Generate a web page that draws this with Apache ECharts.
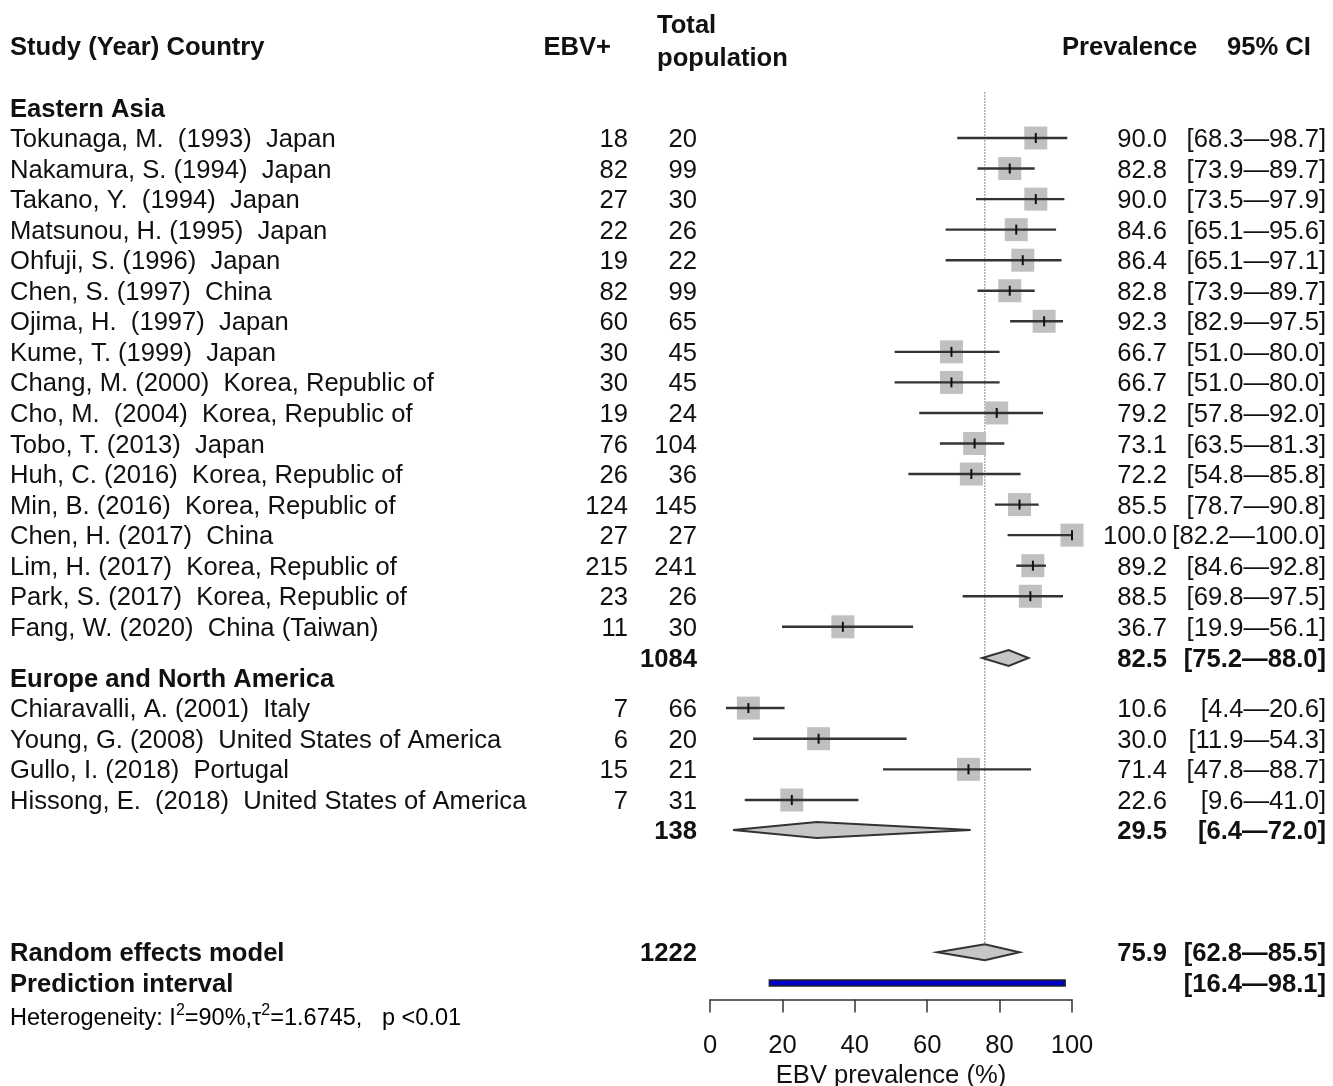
<!DOCTYPE html>
<html>
<head>
<meta charset="utf-8">
<title>EBV prevalence forest plot</title>
<script src="https://cdn.jsdelivr.net/npm/echarts@6/dist/echarts.min.js"></script>
<style>
html, body { margin: 0; padding: 0; background: #fff; }
#chart { width: 1333px; height: 1086px; }
</style>
</head>
<body>
<div id="chart"></div>
<script>
// Eastern Asia
const asiaStudies = [
  'Tokunaga, M.  (1993)  Japan', 'Nakamura, S. (1994)  Japan', 'Takano, Y.  (1994)  Japan',
  'Matsunou, H. (1995)  Japan', 'Ohfuji, S. (1996)  Japan', 'Chen, S. (1997)  China',
  'Ojima, H.  (1997)  Japan', 'Kume, T. (1999)  Japan', 'Chang, M. (2000)  Korea, Republic of',
  'Cho, M.  (2004)  Korea, Republic of', 'Tobo, T. (2013)  Japan', 'Huh, C. (2016)  Korea, Republic of',
  'Min, B. (2016)  Korea, Republic of', 'Chen, H. (2017)  China', 'Lim, H. (2017)  Korea, Republic of',
  'Park, S. (2017)  Korea, Republic of', 'Fang, W. (2020)  China (Taiwan)'
]
const asiaEvents = [18, 82, 27, 22, 19, 82, 60, 30, 30, 19, 76, 26, 124, 27, 215, 23, 11]
const asiaTotals = [20, 99, 30, 26, 22, 99, 65, 45, 45, 24, 104, 36, 145, 27, 241, 26, 30]
const asiaPrev = [90.0, 82.8, 90.0, 84.6, 86.4, 82.8, 92.3, 66.7, 66.7, 79.2, 73.1, 72.2, 85.5, 100.0, 89.2, 88.5, 36.7]
const asiaLower = [68.3, 73.9, 73.5, 65.1, 65.1, 73.9, 82.9, 51.0, 51.0, 57.8, 63.5, 54.8, 78.7, 82.2, 84.6, 69.8, 19.9]
const asiaUpper = [98.7, 89.7, 97.9, 95.6, 97.1, 89.7, 97.5, 80.0, 80.0, 92.0, 81.3, 85.8, 90.8, 100.0, 92.8, 97.5, 56.1]

// Europe and North America
const euroStudies = [
  'Chiaravalli, A. (2001)  Italy', 'Young, G. (2008)  United States of America',
  'Gullo, I. (2018)  Portugal', 'Hissong, E.  (2018)  United States of America'
]
const euroEvents = [7, 6, 15, 7]
const euroTotals = [66, 20, 21, 31]
const euroPrev = [10.6, 30.0, 71.4, 22.6]
const euroLower = [4.4, 11.9, 47.8, 9.6]
const euroUpper = [20.6, 54.3, 88.7, 41.0]

// subgroup pooled estimates
const groupNames = ['Eastern Asia', 'Europe and North America']
const groupTotals = [1084, 138]
const groupPrev = [82.5, 29.5]
const groupLower = [75.2, 6.4]
const groupUpper = [88.0, 72.0]

// overall
const modelTotal = 1222
const modelEstimate = [75.9, 62.8, 85.5]
const predInterval = [16.4, 98.1]
const heterogeneity = ['90%', '1.6745', '<0.01']

// row positions (in row units)
const rowLayout = {
  header: -3, asiaHead: -1, asiaFirst: 0, asiaSub: 17.02,
  euroHead: 17.68, euroFirst: 18.66, euroSub: 22.65,
  model: 26.65, pred: 27.66, het: 28.7
}

const FONT = '"Liberation Sans", Arial, Helvetica, sans-serif'
const FS = 25.6
const TXT_DY = 2
const col = { name: 10, ev: 628, tot: 697, prev: 1167, ci: 1326 }

const rows = []
rows.push({ kind: 'group', y: rowLayout.asiaHead, name: groupNames[0] })
asiaStudies.forEach((s, i) => rows.push({
  kind: 'study', y: rowLayout.asiaFirst + i, name: s, ev: asiaEvents[i], tot: asiaTotals[i],
  prev: asiaPrev[i], lo: asiaLower[i], hi: asiaUpper[i]
}))
rows.push({ kind: 'sub', y: rowLayout.asiaSub, tot: groupTotals[0], prev: groupPrev[0], lo: groupLower[0], hi: groupUpper[0] })
rows.push({ kind: 'group', y: rowLayout.euroHead, name: groupNames[1] })
euroStudies.forEach((s, i) => rows.push({
  kind: 'study', y: rowLayout.euroFirst + i * 1.003, name: s, ev: euroEvents[i], tot: euroTotals[i],
  prev: euroPrev[i], lo: euroLower[i], hi: euroUpper[i]
}))
rows.push({ kind: 'sub', y: rowLayout.euroSub, tot: groupTotals[1], prev: groupPrev[1], lo: groupLower[1], hi: groupUpper[1] })
rows.push({
  kind: 'sub', y: rowLayout.model, name: 'Random effects model', tot: modelTotal,
  prev: modelEstimate[0], lo: modelEstimate[1], hi: modelEstimate[2]
})
rows.push({ kind: 'pred', y: rowLayout.pred, name: 'Prediction interval', lo: predInterval[0], hi: predInterval[1] })

const fmtCI = (lo, hi) => '[' + lo.toFixed(1) + '\u2014' + hi.toFixed(1) + ']'

function txt(x, y, text, align, bold, size) {
  return {
    type: 'text', x: x, y: y + TXT_DY,
    style: {
      text: text, align: align, verticalAlign: 'middle', fill: '#111',
      font: (bold ? 'bold ' : '') + (size || FS) + 'px ' + FONT
    }
  }
}

function renderRow(params, api) {
  const r = rows[api.value(2)]
  const y = api.coord([0, r.y])[1]
  const px = v => api.coord([v, r.y])[0]
  const out = []
  if (r.kind === 'group') {
    out.push(txt(col.name, y, r.name, 'left', true))
  }
  if (r.kind === 'study') {
    const s = 23
    out.push({ type: 'rect', shape: { x: px(r.prev) - s / 2, y: y - s / 2, width: s, height: s }, style: { fill: '#c0c0c0' } })
    out.push({ type: 'line', shape: { x1: px(r.lo), y1: y, x2: px(r.hi), y2: y }, style: { stroke: '#333', lineWidth: 2.4 } })
    out.push({ type: 'line', shape: { x1: px(r.prev), y1: y - 5, x2: px(r.prev), y2: y + 5 }, style: { stroke: '#111', lineWidth: 2 } })
    out.push(txt(col.name, y, r.name, 'left', false))
    out.push(txt(col.ev, y, String(r.ev), 'right', false))
    out.push(txt(col.tot, y, String(r.tot), 'right', false))
    out.push(txt(col.prev, y, r.prev.toFixed(1), 'right', false))
    out.push(txt(col.ci, y, fmtCI(r.lo, r.hi), 'right', false))
  }
  if (r.kind === 'sub') {
    const h = 8
    out.push({
      type: 'polygon',
      shape: { points: [[px(r.lo), y], [px(r.prev), y - h], [px(r.hi), y], [px(r.prev), y + h]] },
      style: { fill: '#c6c6c6', stroke: '#333', lineWidth: 2 }
    })
    if (r.name) out.push(txt(col.name, y, r.name, 'left', true))
    out.push(txt(col.tot, y, String(r.tot), 'right', true))
    out.push(txt(col.prev, y, r.prev.toFixed(1), 'right', true))
    out.push(txt(col.ci, y, fmtCI(r.lo, r.hi), 'right', true))
  }
  if (r.kind === 'pred') {
    out.push({
      type: 'rect', shape: { x: px(r.lo), y: y - 3, width: px(r.hi) - px(r.lo), height: 6 },
      style: { fill: '#0000cd', stroke: '#222', lineWidth: 1.5 }
    })
    out.push(txt(col.name, y, r.name, 'left', true))
    out.push(txt(col.ci, y, fmtCI(r.lo, r.hi), 'right', true))
  }
  return { type: 'group', children: out }
}

function renderHeader(params, api) {
  const y = api.coord([0, rowLayout.header])[1]
  const hy = api.coord([0, rowLayout.het])[1]
  return {
    type: 'group',
    children: [
      txt(10, y, 'Study (Year) Country', 'left', true),
      txt(611, y, 'EBV+', 'right', true),
      {
        type: 'text', x: 657, y: y - 6 + TXT_DY,
        style: { text: 'Total\npopulation', align: 'left', verticalAlign: 'middle', fill: '#111', font: 'bold ' + FS + 'px ' + FONT, lineHeight: 33 }
      },
      txt(1062, y, 'Prevalence', 'left', true),
      txt(1227, y, '95% CI', 'left', true),
      {
        type: 'text', x: 10, y: hy + TXT_DY,
        style: {
          text: '{a|Heterogeneity: I}{s|2}{a|=' + heterogeneity[0] + ',\u03c4}{s|2}{a|=' + heterogeneity[1] + ',   p ' + heterogeneity[2] + '}',
          align: 'left', verticalAlign: 'middle',
          rich: {
            a: { fontSize: 23.5, fontFamily: FONT, color: '#111', lineHeight: 28, verticalAlign: 'bottom' },
            s: { fontSize: 16, fontFamily: FONT, color: '#111', lineHeight: 28, verticalAlign: 'top' }
          }
        }
      }
    ]
  }
}

const chart = echarts.init(document.getElementById('chart'))
const rowUnit = 30.55
const yMin = -4, yMax = 28.2
const gridTop = 138 + yMin * rowUnit

chart.setOption({
  animation: false,
  backgroundColor: '#fff',
  grid: {
    left: 710, width: 362, top: gridTop, height: (yMax - yMin) * rowUnit,
    containLabel: false, outerBoundsMode: 'none'
  },
  xAxis: {
    type: 'value', min: 0, max: 100, interval: 20, position: 'bottom',
    axisLine: { show: true, onZero: false, lineStyle: { color: '#333', width: 1.5 } },
    axisTick: { show: true, inside: false, length: 13, lineStyle: { color: '#333', width: 1.5 } },
    axisLabel: { fontSize: FS, color: '#111', fontFamily: FONT, margin: 33 },
    splitLine: { show: false },
    name: 'EBV prevalence (%)', nameLocation: 'middle', nameGap: 62,
    nameTextStyle: { fontSize: FS, color: '#111', fontFamily: FONT }
  },
  yAxis: {
    type: 'value', min: yMin, max: yMax, inverse: true, show: false
  },
  series: [
    {
      type: 'line', silent: true, symbol: 'none', z: 1,
      data: [[modelEstimate[0], -1.5], [modelEstimate[0], 26.4]],
      lineStyle: { type: 'dotted', color: '#999', width: 1.5 }
    },
    {
      type: 'custom', z: 3, clip: false,
      data: rows.map((r, i) => [r.prev != null ? r.prev : 0, r.y, i]),
      encode: { x: 0, y: 1 },
      renderItem: renderRow
    },
    {
      type: 'custom', z: 3, clip: false,
      data: [[0, rowLayout.header, 0]],
      renderItem: renderHeader
    }
  ]
})
</script>
</body>
</html>
